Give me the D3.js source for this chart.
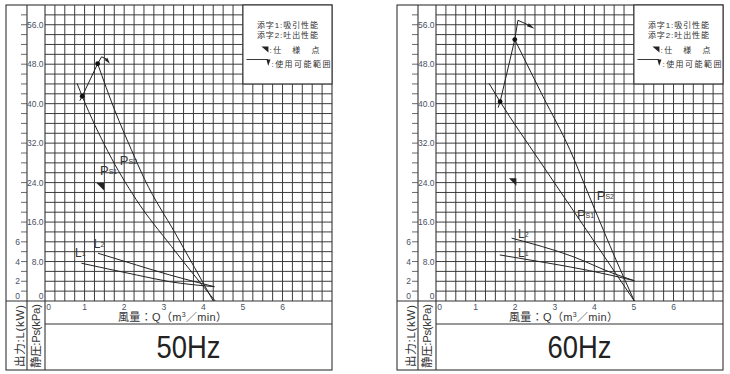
<!DOCTYPE html>
<html>
<head>
<meta charset="utf-8">
<script src="https://cdnjs.cloudflare.com/ajax/libs/d3/7.8.5/d3.min.js"></script>
<style>
  body { margin: 0; background: #fff; }
  svg { display: block; font-family: "Liberation Sans", Arial, "Noto Sans CJK JP", sans-serif; }
</style>
</head>
<body>
<div id="chart"></div>
<script>

// axis ticks
var xTicks = [0, 1, 2, 3, 4, 5, 6];
var psTicks = [0, 8, 16, 24, 32, 40, 48, 56];
var kwTicks = [0, 2, 4, 6];
var legendLines = ["添字1:吸引性能", "添字2:吐出性能"];
var panels = ["50Hz", "60Hz"];

// 50Hz  -- Ps: [Q, kPa], L: [Q, kW]
var ps1_50 = [[0.81, 44.1], [0.94, 41.5], [1.59, 30.3], [2.30, 20.6], [3.20, 11.0], [4.30, 0]];
var ps2_50 = [[1.33, 48.1], [1.76, 38.7], [2.18, 30.7], [2.52, 24.6], [3.30, 13.6], [4.25, 0]];
var l1_50 = [[0.92, 3.83], [2.31, 2.64], [3.15, 1.96], [4.28, 1.45]];
var l2_50 = [[1.34, 4.84], [2.31, 3.65], [3.15, 2.64], [4.28, 1.45]];
var dots_50 = [[0.94, 41.5], [1.33, 48.1]];
var range_50 = [[0.88, 40.6], [0.94, 41.5], [1.33, 48.1], [1.43, 49.5], [1.54, 49.1], [1.64, 48.1]];
var spec_50 = [1.49, 23.9];

// 60Hz
var ps1_60 = [[1.34, 44.1], [1.62, 40.4], [2.60, 28.6], [3.80, 14.4], [5.01, 0]];
var ps2_60 = [[1.99, 53.0], [2.70, 41.5], [3.38, 30.7], [3.91, 20.5], [4.55, 8.3], [5.01, 0]];
var l1_60 = [[1.61, 4.67], [2.62, 3.99], [3.88, 3.08], [5.01, 2.06]];
var l2_60 = [[1.91, 6.37], [3.46, 4.50], [4.47, 2.81], [5.01, 2.06]];
var dots_60 = [[1.62, 40.4], [1.99, 53.0]];
var range_60 = [[1.57, 39.2], [1.62, 40.4], [1.99, 53.0], [2.07, 56.9], [2.32, 56.0], [2.49, 55.2]];
var spec_60 = [2.03, 24.9];


var width = 730, height = 374;

var box = { left: 6, top: 5, right: 332, bottom: 370, col1: 27, col2: 45, axis: 301, title: 324 };

var x = d3.scaleLinear().domain([0, 7.25]).range([box.col2, box.right]);
var y = d3.scaleLinear().domain([0, 60]).range([box.axis, box.top]);
var yKw = d3.scaleLinear().domain([0, 30]).range([box.axis, box.top]);

var psLine = d3.line().x(function(d) { return x(d[0]); }).y(function(d) { return y(d[1]); }).curve(d3.curveMonotoneX);
var kwLine = d3.line().x(function(d) { return x(d[0]); }).y(function(d) { return yKw(d[1]); }).curve(d3.curveMonotoneX);
var straight = d3.line().x(function(d) { return x(d[0]); }).y(function(d) { return y(d[1]); });

var svg = d3.select("#chart").append("svg")
    .attr("width", width)
    .attr("height", height);

var ink = "#222";
var tickInk = "#4a5266";


// small filled wedge from a to b (pixel coords)
var wedge = function(a, b, w) {
    var dx = b[0] - a[0], dy = b[1] - a[1];
    var len = Math.sqrt(dx * dx + dy * dy);
    var nx = -dy / len * w, ny = dx / len * w;
    return [[a[0] + nx, a[1] + ny], [a[0] - nx, a[1] - ny], b].join(" ");
}


var drawChart = function(ox, c) {
    var g = svg.append("g").attr("transform", "translate(" + ox + ",0)");

    // grid
    var grid = g.append("g").attr("stroke", "#333").attr("stroke-width", 0.95);
    grid.selectAll("line.v")
        .data(d3.range(1, 29))
        .enter().append("line")
        .attr("x1", function(d) { return x(d * 0.25); })
        .attr("x2", function(d) { return x(d * 0.25); })
        .attr("y1", box.top)
        .attr("y2", box.axis);
    grid.selectAll("line.h")
        .data(d3.range(1, 30))
        .enter().append("line")
        .attr("x1", box.col2)
        .attr("x2", box.right)
        .attr("y1", function(d) { return y(d * 2); })
        .attr("y2", function(d) { return y(d * 2); });

    // frame
    var frame = g.append("g").attr("stroke", "#333").attr("stroke-width", 1.1).attr("fill", "none");
    frame.append("rect")
        .attr("x", box.left).attr("y", box.top)
        .attr("width", box.right - box.left).attr("height", box.bottom - box.top);
    frame.append("line").attr("x1", box.col1).attr("x2", box.col1).attr("y1", box.top).attr("y2", box.bottom);
    frame.append("line").attr("x1", box.col2).attr("x2", box.col2).attr("y1", box.top).attr("y2", box.bottom);
    frame.append("line").attr("x1", box.left).attr("x2", box.right).attr("y1", box.axis).attr("y2", box.axis);
    frame.append("line").attr("x1", box.col2).attr("x2", box.right).attr("y1", box.title).attr("y2", box.title);

    // ticks on the left axis line
    g.append("g").attr("stroke", "#444").attr("stroke-width", 0.8)
        .selectAll("line")
        .data(d3.range(2, 60, 2))
        .enter().append("line")
        .attr("x1", box.col1 - 6).attr("x2", box.col1)
        .attr("y1", function(d) { return y(d); })
        .attr("y2", function(d) { return y(d); });

    // kPa labels
    g.append("g").selectAll("text")
        .data(psTicks)
        .enter().append("text")
        .attr("x", box.col2 - 1.5)
        .attr("y", function(d) { return d == 0 ? box.axis - 2 : y(d) + 3; })
        .attr("text-anchor", "end")
        .attr("font-size", 8.5)
        .attr("fill", tickInk)
        .text(function(d) { return d == 0 ? "0" : d.toFixed(1); });

    // kW labels
    g.append("g").selectAll("text")
        .data(kwTicks)
        .enter().append("text")
        .attr("x", box.col1 - 7)
        .attr("y", function(d) { return d == 0 ? box.axis - 2 : yKw(d) + 3; })
        .attr("text-anchor", "end")
        .attr("font-size", 8.5)
        .attr("fill", tickInk)
        .text(function(d) { return d; });

    // Q labels
    g.append("g").selectAll("text")
        .data(xTicks)
        .enter().append("text")
        .attr("x", function(d) { return d == 0 ? x(d) + 3.5 : x(d); })
        .attr("y", box.axis + 8.5)
        .attr("text-anchor", "middle")
        .attr("font-size", 8.5)
        .attr("fill", tickInk)
        .text(function(d) { return d; });

    var qTitle = g.append("text")
        .attr("x", 118)
        .attr("y", 320.5)
        .attr("font-size", 11)
        .attr("fill", "#333")
        .attr("textLength", 109);
    qTitle.append("tspan").text("風量：Q（m");
    qTitle.append("tspan").attr("font-size", 7).attr("dy", -4).text("3");
    qTitle.append("tspan").attr("dy", 4).text("／min）");

    // rotated axis titles
    g.append("text")
        .attr("transform", "translate(19.5," + 336 + ") rotate(-90)")
        .attr("text-anchor", "middle")
        .attr("dominant-baseline", "central")
        .attr("font-size", 11.5)
        .attr("fill", "#333")
        .attr("textLength", 62)
        .text("出力:L(kW)");
    g.append("text")
        .attr("transform", "translate(35.5," + 336 + ") rotate(-90)")
        .attr("text-anchor", "middle")
        .attr("dominant-baseline", "central")
        .attr("font-size", 11.5)
        .attr("fill", "#333")
        .attr("textLength", 64)
        .text("静圧:Ps(kPa)");

    // frequency
    g.append("text")
        .attr("x", (box.col2 + box.right) / 2)
        .attr("y", 358)
        .attr("text-anchor", "middle")
        .attr("font-size", 32)
        .attr("fill", "#222")
        .attr("textLength", 64)
        .attr("lengthAdjust", "spacingAndGlyphs")
        .text(c.name);

    // legend
    var lx = x(5);
    g.append("rect")
        .attr("x", lx).attr("y", box.top)
        .attr("width", box.right - lx).attr("height", y(44) - box.top)
        .attr("fill", "#fff").attr("stroke", "#333").attr("stroke-width", 1.1);
    g.append("g").selectAll("text")
        .data(legendLines)
        .enter().append("text")
        .attr("x", lx + 14)
        .attr("y", function(d, i) { return 27.5 + i * 10; })
        .attr("font-size", 8)
        .attr("fill", "#333")
        .attr("textLength", 61)
        .text(function(d) { return d; });
    g.append("polygon")
        .attr("points", [[lx + 18.5, 46.5], [lx + 25.5, 46.5], [lx + 25.5, 52.5]].join(" "))
        .attr("fill", "#222");
    g.append("text")
        .attr("x", lx + 26.5).attr("y", 52.5)
        .attr("font-size", 8).attr("fill", "#333")
        .attr("textLength", 50)
        .text(":仕　様　点");
    g.append("line")
        .attr("x1", lx + 3.5).attr("x2", lx + 25).attr("y1", 59.5).attr("y2", 59.5)
        .attr("stroke", "#222").attr("stroke-width", 0.9);
    g.append("polygon")
        .attr("points", [[lx + 23.5, 59.5], [lx + 27.5, 59.5], [lx + 25.3, 66]].join(" "))
        .attr("fill", "#222");
    g.append("text")
        .attr("x", lx + 28.5).attr("y", 66.5)
        .attr("font-size", 8).attr("fill", "#333")
        .attr("textLength", 59)
        .text(":使用可能範囲");

    // curves
    var curves = g.append("g").attr("fill", "none").attr("stroke", ink).attr("stroke-width", 1);
    curves.append("path").attr("d", psLine(c.ps1));
    curves.append("path").attr("d", psLine(c.ps2));
    curves.append("path").attr("d", kwLine(c.l1));
    curves.append("path").attr("d", kwLine(c.l2));
    curves.append("path").attr("d", straight(c.range.slice(0, c.range.length - 1)));

    var n = c.range.length;
    var a = [x(c.range[n - 2][0]), y(c.range[n - 2][1])];
    var b = [x(c.range[n - 1][0]), y(c.range[n - 1][1])];
    g.append("polygon").attr("points", wedge(a, b, 1.8)).attr("fill", ink);

    g.append("g").selectAll("circle")
        .data(c.dots)
        .enter().append("circle")
        .attr("cx", function(d) { return x(d[0]); })
        .attr("cy", function(d) { return y(d[1]); })
        .attr("r", 2.4)
        .attr("fill", "#111");

    // spec point
    var sx = x(c.spec[0]), sy = y(c.spec[1]);
    g.append("polygon")
        .attr("points", [[sx - 7.5, sy], [sx, sy], [sx, sy + 7.5]].join(" "))
        .attr("fill", "#222");

    // curve labels
    c.labels.forEach(function(l) {
        var t = g.append("text")
            .attr("x", x(l.q))
            .attr("y", l.kw ? yKw(l.v) : y(l.v))
            .attr("font-size", l.main == "P" ? 13 : 12)
            .attr("fill", "#333");
        t.append("tspan").text(l.main);
        t.append("tspan").attr("font-size", 7).attr("dy", -1).text(l.sub);
    });
}


drawChart(0, {
    name: panels[0],
    ps1: ps1_50, ps2: ps2_50, l1: l1_50, l2: l2_50,
    dots: dots_50, range: range_50, spec: spec_50,
    labels: [
        { main: "P", sub: "S2", q: 1.89, v: 27.6 },
        { main: "P", sub: "S1", q: 1.39, v: 25.6 },
        { main: "L", sub: "2", q: 1.23, v: 5.4, kw: true },
        { main: "L", sub: "1", q: 0.76, v: 4.5, kw: true }
    ]
});

drawChart(391, {
    name: panels[1],
    ps1: ps1_60, ps2: ps2_60, l1: l1_60, l2: l2_60,
    dots: dots_60, range: range_60, spec: spec_60,
    labels: [
        { main: "P", sub: "S2", q: 4.06, v: 20.5 },
        { main: "P", sub: "S1", q: 3.56, v: 16.6 },
        { main: "L", sub: "2", q: 2.07, v: 6.35, kw: true },
        { main: "L", sub: "1", q: 2.07, v: 4.45, kw: true }
    ]
});

</script>
</body>
</html>
